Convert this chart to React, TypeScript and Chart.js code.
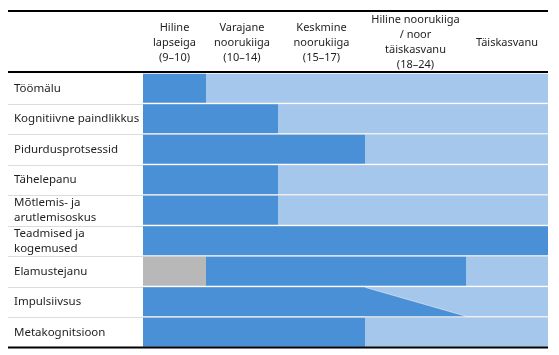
import React, { useEffect, useRef } from 'react';
import { Chart, registerables, LinearScale } from 'chart.js';

// ---------- data ----------
const rowLabels: (string | string[])[] = [
  'Töömälu',
  'Kognitiivne paindlikkus',
  'Pidurdusprotsessid',
  'Tähelepanu',
  ['Mõtlemis- ja', 'arutlemisoskus'],
  ['Teadmised ja', 'kogemused'],
  'Elamustejanu',
  'Impulsiivsus',
  'Metakognitsioon',
];

const stageLabels: string[][] = [
  ['Hiline', 'lapseiga', '(9–10)'],
  ['Varajane', 'noorukiiga', '(10–14)'],
  ['Keskmine', 'noorukiiga', '(15–17)'],
  ['Hiline noorukiiga', '/ noor', 'täiskasvanu', '(18–24)'],
  ['Täiskasvanu'],
];

// values in stage units: 0 = start of "Hiline lapseiga", 5 = end of "Täiskasvanu"
const notApplicable: ([number, number] | null)[] = [null, null, null, null, null, null, [0, 1], null, null];
const mainDevelopment: ([number, number] | null)[] = [
  [0, 1], [0, 2], [0, 3], [0, 2], [0, 2], [0, 5], [1, 4], [0, 3], [0, 3],
];
const continuedDevelopment: ([number, number] | null)[] = [
  [1, 5], [2, 5], [3, 5], [2, 5], [2, 5], null, [4, 5], [3, 5], [3, 5],
];
// gradual fade of the main development period (top edge -> bottom edge)
const taperFrom: (number | null)[] = [null, null, null, null, null, null, null, 3, null];
const taperTo: (number | null)[] = [null, null, null, null, null, null, null, 4, null];

// ---------- styles ----------
const DARK = 'rgb(74,144,214)';
const LIGHT = 'rgb(164,199,235)';
const GREY = 'rgb(184,184,184)';
const TEXT = '#1e1e1e';
const FONT_FAMILY = '"Noto Sans", sans-serif';
const stageWidths = [63, 72, 87, 101, 82];

class StageScale extends LinearScale {
  static id = 'stage';
  static defaults = (LinearScale as any).defaults;
  getPixelForValue(value: number) {
    const w: number[] = (this.options as any).stageWidths || [1, 1, 1, 1, 1];
    const total = w.reduce((a, b) => a + b, 0);
    const v = Math.max(0, Math.min(w.length, value));
    let acc = 0;
    let i = 0;
    while (i < w.length && v >= i + 1) {
      acc += w[i];
      i++;
    }
    if (i < w.length) acc += (v - i) * w[i];
    return (this as any).left + (acc / total) * (this as any).width;
  }
}

Chart.register(...registerables, StageScale as any);

const tablePlugin = {
  id: 'tablePlugin',
  beforeDatasetsDraw(chart: any) {
    const { ctx, chartArea, scales } = chart;
    const y = scales.y;
    ctx.save();
    ctx.strokeStyle = 'rgb(220,220,220)';
    ctx.lineWidth = 1;
    for (let i = 1; i < rowLabels.length; i++) {
      const yy = Math.round((y.getPixelForValue(i - 1) + y.getPixelForValue(i)) / 2) + 0.5;
      ctx.beginPath();
      ctx.moveTo(8, yy);
      ctx.lineTo(chartArea.right, yy);
      ctx.stroke();
    }
    ctx.restore();
  },
  afterDatasetsDraw(chart: any) {
    const { ctx, scales } = chart;
    const x = scales.x;
    const meta = chart.getDatasetMeta(1);
    ctx.save();
    for (let i = 0; i < taperFrom.length; i++) {
      const a = taperFrom[i];
      const b = taperTo[i];
      if (a == null || b == null) continue;
      const el = meta.data[i];
      const top = el.y - el.height / 2;
      const bottom = el.y + el.height / 2;
      const xa = x.getPixelForValue(a);
      const xb = x.getPixelForValue(b);
      ctx.fillStyle = DARK;
      ctx.beginPath();
      ctx.moveTo(xa, top);
      ctx.lineTo(xb, bottom);
      ctx.lineTo(xa, bottom);
      ctx.closePath();
      ctx.fill();
      ctx.strokeStyle = 'rgba(255,255,255,0.6)';
      ctx.lineWidth = 0.8;
      ctx.beginPath();
      ctx.moveTo(xa, top);
      ctx.lineTo(xb, bottom);
      ctx.stroke();
    }
    ctx.restore();
  },
  afterDraw(chart: any) {
    const { ctx, chartArea, scales } = chart;
    const x = scales.x;
    ctx.save();
    ctx.strokeStyle = '#000';
    ctx.lineWidth = 2;
    [11, chartArea.top - 1, chartArea.bottom].forEach((yy: number) => {
      ctx.beginPath();
      ctx.moveTo(8, yy);
      ctx.lineTo(chartArea.right, yy);
      ctx.stroke();
    });
    ctx.fillStyle = TEXT;
    ctx.font = `11px ${FONT_FAMILY}`;
    ctx.textAlign = 'center';
    ctx.textBaseline = 'middle';
    const cy = 42.5;
    const lh = 15;
    stageLabels.forEach((lines, i) => {
      const cx = x.getPixelForValue(i + 0.5);
      lines.forEach((t, j) => {
        ctx.fillText(t, cx, cy + (j - (lines.length - 1) / 2) * lh);
      });
    });
    ctx.restore();
  },
};

export default function App() {
  const ref = useRef<HTMLCanvasElement | null>(null);
  useEffect(() => {
    if (!ref.current) return;
    const common = {
      barPercentage: 1,
      categoryPercentage: 0.95,
      grouped: false,
      borderWidth: 0,
      borderSkipped: false,
    };
    const chart = new Chart(ref.current, {
      type: 'bar',
      data: {
        labels: rowLabels as any,
        datasets: [
          { label: 'Ei kohaldu', data: notApplicable as any, backgroundColor: GREY, ...common },
          { label: 'Peamine areng', data: mainDevelopment as any, backgroundColor: DARK, ...common },
          { label: 'Jätkuv areng', data: continuedDevelopment as any, backgroundColor: LIGHT, ...common },
        ],
      },
      options: {
        indexAxis: 'y',
        animation: false,
        responsive: true,
        maintainAspectRatio: false,
        events: [],
        layout: { padding: { left: 14, right: 11, top: 73, bottom: 4 } },
        plugins: { legend: { display: false }, tooltip: { enabled: false } },
        scales: {
          x: {
            type: 'stage' as any,
            min: 0,
            max: 5,
            display: false,
            stageWidths,
          } as any,
          y: {
            type: 'category',
            grid: { display: false },
            border: { display: false },
            ticks: {
              autoSkip: false,
              crossAlign: 'far',
              padding: 0,
              color: TEXT,
              font: { family: FONT_FAMILY, size: 11.5, lineHeight: 1.3 },
            },
            afterFit: (s: any) => {
              s.width = 129;
            },
          },
        },
      },
      plugins: [tablePlugin],
    });
    return () => chart.destroy();
  }, []);
  return (
    <div style={{ position: 'fixed', left: 0, top: 0, width: 559, height: 355, background: '#fff' }}>
      <canvas ref={ref} />
    </div>
  );
}
